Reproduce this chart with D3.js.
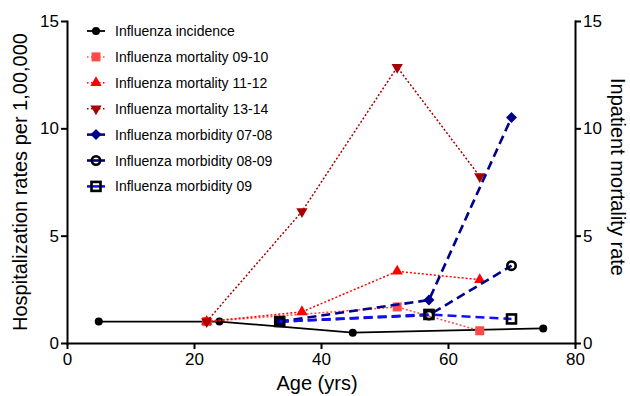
<!DOCTYPE html>
<html lang="en">
<head>
<meta charset="utf-8">
<title>Influenza rates by age</title>
<script src="https://d3js.org/d3.v7.min.js"></script>
<style>
    body { margin: 0; background: #fff; }
    svg { display: block; font-family: "Liberation Sans", Arial, sans-serif; }
    .axis path, .axis line { stroke: #000; stroke-width: 2px; }
    .axis text { font-size: 17px; fill: #000; font-family: "Liberation Sans", Arial, sans-serif; }
</style>
</head>
<body>
<script>
    // series data (age in years, rate)
    var incidenceAge = [5, 24, 45, 75];
    var incidenceVal = [1.0, 1.0, 0.48, 0.68];

    var mort0910Age = [22, 52, 65];
    var mort0910Val = [1.0, 1.68, 0.57];

    var mort1112Age = [22, 37, 52, 65];
    var mort1112Val = [1.0, 1.45, 3.34, 2.95];

    var mort1314Age = [22, 37, 52, 65];
    var mort1314Val = [1.0, 6.13, 12.85, 7.76];

    var morb0708Age = [33.5, 57, 70];
    var morb0708Val = [1.0, 2.0, 10.5];

    var morb0809Age = [33.5, 57, 70];
    var morb0809Val = [1.0, 1.3, 3.6];

    var morb09Age = [33.5, 57, 70];
    var morb09Val = [1.0, 1.33, 1.12];

    var xTicks = [0, 20, 40, 60, 80];
    var yTicks = [0, 5, 10, 15];

    var series = [
        { name: "Influenza incidence", x: incidenceAge, y: incidenceVal, line: "#000", dash: null, lw: 1.8, marker: "circle", fill: "#000", stroke: "none" },
        { name: "Influenza mortality 09-10", x: mort0910Age, y: mort0910Val, line: "#ff4a4a", dash: "2,2", lw: 1.5, marker: "square", fill: "#ff4a4a", stroke: "none" },
        { name: "Influenza mortality 11-12", x: mort1112Age, y: mort1112Val, line: "#ff0000", dash: "2,2", lw: 1.5, marker: "triangle", fill: "#ff0000", stroke: "none" },
        { name: "Influenza mortality 13-14", x: mort1314Age, y: mort1314Val, line: "#a80000", dash: "2,2", lw: 1.5, marker: "triangleDown", fill: "#a80000", stroke: "none" },
        { name: "Influenza morbidity 07-08", x: morb0708Age, y: morb0708Val, line: "#00008b", dash: "9,5", lw: 2.6, marker: "diamond", fill: "#00008b", stroke: "none" },
        { name: "Influenza morbidity 08-09", x: morb0809Age, y: morb0809Val, line: "#00008b", dash: "9,5", lw: 2.6, marker: "openCircle", fill: "#fff", stroke: "#000" },
        { name: "Influenza morbidity 09", x: morb09Age, y: morb09Val, line: "#1010ff", dash: "9,5", lw: 2.6, marker: "openSquare", fill: "#fff", stroke: "#000" }
    ];

    var width = 630, height = 396;
    var margin = { top: 21, right: 55, bottom: 53, left: 67 };

    var svg = d3.select("body").append("svg")
        .attr("width", width)
        .attr("height", height);

    var x = d3.scaleLinear().domain([0, 80]).range([margin.left, width - margin.right]);
    var y = d3.scaleLinear().domain([0, 15]).range([height - margin.bottom, margin.top]);
    var y2 = d3.scaleLinear().domain([0, 15]).range([height - margin.bottom, margin.top]);

    // axes
    svg.append("g").attr("class", "axis")
        .attr("transform", "translate(0," + (height - margin.bottom) + ")")
        .call(d3.axisBottom(x).tickValues(xTicks).tickSize(6).tickSizeOuter(0).tickPadding(4));

    svg.append("g").attr("class", "axis")
        .attr("transform", "translate(" + margin.left + ",0)")
        .call(d3.axisLeft(y).tickValues(yTicks).tickSize(6).tickSizeOuter(0).tickPadding(2));

    svg.append("g").attr("class", "axis")
        .attr("transform", "translate(" + (width - margin.right) + ",0)")
        .call(d3.axisRight(y2).tickValues(yTicks).tickSize(6).tickSizeOuter(0).tickPadding(2));

    svg.selectAll(".axis .domain").attr("stroke-linecap", "square");

    // axis titles
    svg.append("text")
        .attr("x", 317).attr("y", 390)
        .attr("text-anchor", "middle")
        .attr("font-size", 20)
        .text("Age (yrs)");

    svg.append("text")
        .attr("transform", "translate(27,182) rotate(-90)")
        .attr("text-anchor", "middle")
        .attr("font-size", 20)
        .text("Hospitalization rates per 1,00,000");

    svg.append("text")
        .attr("transform", "translate(611,177) rotate(90)")
        .attr("text-anchor", "middle")
        .attr("font-size", 20)
        .text("Inpatient mortality rate");

    function drawMarker(g, s, cx, cy) {
        if (s.marker == "circle") {
            g.append("circle").attr("cx", cx).attr("cy", cy).attr("r", 4).attr("fill", s.fill);
        } else if (s.marker == "square") {
            g.append("rect").attr("x", cx - 4.5).attr("y", cy - 4.5).attr("width", 9).attr("height", 9).attr("fill", s.fill);
        } else if (s.marker == "triangle") {
            g.append("path").attr("d", d3.symbol(d3.symbolTriangle, 55)()).attr("transform", "translate(" + cx + "," + cy + ")").attr("fill", s.fill);
        } else if (s.marker == "triangleDown") {
            g.append("path").attr("d", d3.symbol(d3.symbolTriangle, 55)()).attr("transform", "translate(" + cx + "," + cy + ") rotate(180)").attr("fill", s.fill);
        } else if (s.marker == "diamond") {
            g.append("path").attr("d", "M0,-5.5L5.5,0L0,5.5L-5.5,0Z").attr("transform", "translate(" + cx + "," + cy + ")").attr("fill", s.fill);
        } else if (s.marker == "openCircle") {
            g.append("circle").attr("cx", cx).attr("cy", cy).attr("r", 4.2).attr("fill", "none").attr("stroke", s.stroke).attr("stroke-width", 2.6);
        } else if (s.marker == "openSquare") {
            g.append("rect").attr("x", cx - 4.5).attr("y", cy - 4.5).attr("width", 9).attr("height", 9).attr("fill", "none").attr("stroke", s.stroke).attr("stroke-width", 2.6);
        }
    }

    var line = d3.line()
        .x(function (d) { return x(d[0]); })
        .y(function (d) { return y(d[1]); });

    series.forEach(function (s) {
        var pts = s.x.map(function (v, i) { return [v, s.y[i]]; });
        var g = svg.append("g");
        g.append("path")
            .attr("d", line(pts))
            .attr("fill", "none")
            .attr("stroke", s.line)
            .attr("stroke-width", s.lw)
            .attr("stroke-dasharray", s.dash);
        pts.forEach(function (p) {
            drawMarker(g, s, x(p[0]), y(p[1]));
        });
    });

    // legend
    var legend = svg.append("g");
    series.forEach(function (s, i) {
        var ly = 31 + i * 25.9;
        var g = legend.append("g");
        g.append("line")
            .attr("x1", 87).attr("x2", 105)
            .attr("y1", ly).attr("y2", ly)
            .attr("stroke", s.line)
            .attr("stroke-width", s.lw)
            .attr("stroke-dasharray", s.dash ? (s.dash == "2,2" ? "1.5,2.5" : null) : null);
        drawMarker(g, s, 96, ly);
        g.append("text")
            .attr("x", 115).attr("y", ly + 5)
            .attr("font-size", 14)
            .text(s.name);
    });
</script>
</body>
</html>
